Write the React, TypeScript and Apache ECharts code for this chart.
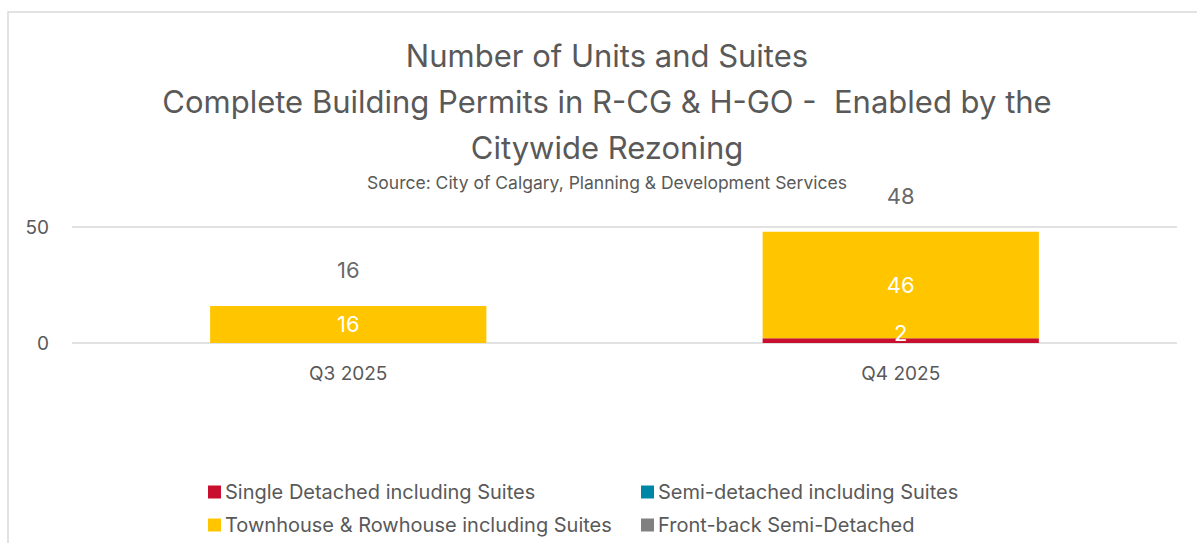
import React, { useEffect, useRef } from "react";
import * as echarts from "echarts";

const categories = ["Q3 2025", "Q4 2025"];
const singleDetached = [0, 2];
const semiDetached = [0, 0];
const townhouse = [16, 46];
const frontBack = [0, 0];
const totals = [16, 48];
const seriesNames = [
  "Single Detached including Suites",
  "Semi-detached including Suites",
  "Townhouse & Rowhouse including Suites",
  "Front-back Semi-Detached",
];
const colors = ["#C8102E", "#0087A8", "#FFC600", "#808080"];

const FONT = "Inter";
const TXT = "#595959";

export default function App() {
  const ref = useRef<HTMLDivElement>(null);
  useEffect(() => {
    const chart = echarts.init(ref.current!, null, { renderer: "svg" });
    const values = [singleDetached, semiDetached, townhouse, frontBack];
    const barSeries = seriesNames.map((name, i) => ({
      name,
      type: "bar",
      stack: "total",
      barWidth: "50%",
      itemStyle: { color: colors[i] },
      data: values[i],
      label: {
        show: true,
        position: "inside",
        offset: i === 0 ? [0, -8] : [0, 0],
        color: "#ffffff",
        fontSize: 22,
        fontFamily: FONT,
        formatter: (p: any) => (p.value ? String(p.value) : ""),
      },
    }));
    const legendPos = [
      { left: 208, top: 482 },
      { left: 641, top: 482 },
      { left: 208, top: 515 },
      { left: 641, top: 515 },
    ];
    const titleText = (text: string, y: number, size: number) => ({
      type: "text",
      x: 607,
      y,
      style: {
        text,
        fill: TXT,
        fontSize: size,
        fontFamily: FONT,
        align: "center",
        verticalAlign: "middle",
      },
    });
    chart.setOption({
      animation: false,
      textStyle: { fontFamily: FONT },
      graphic: [
        {
          type: "rect",
          shape: { x: 8, y: 12, width: 1250, height: 700 },
          style: { fill: "none", stroke: "#d9d9d9", lineWidth: 1.5 },
          silent: true,
        },
        titleText("Number of Units and Suites", 55, 31),
        titleText("Complete Building Permits in R-CG & H-GO -  Enabled by the", 101, 31),
        titleText("Citywide Rezoning", 147, 31),
        titleText("Source: City of Calgary, Planning & Development Services", 182, 17.5),
      ],
      legend: seriesNames.map((name, i) => ({
        data: [name],
        left: legendPos[i].left,
        top: legendPos[i].top,
        padding: 0,
        icon: "rect",
        itemWidth: 13,
        itemHeight: 13,
        itemGap: 6,
        selectedMode: false,
        textStyle: { color: TXT, fontSize: 20, fontFamily: FONT, padding: [0, 0, 0, -1] },
      })),
      grid: { left: 72, right: 20, top: 227, bottom: 200, containLabel: false },
      xAxis: {
        type: "category",
        data: categories,
        axisLine: { show: false },
        axisTick: { show: false },
        axisLabel: { color: TXT, fontSize: 19, fontFamily: FONT, margin: 21 },
      },
      yAxis: {
        type: "value",
        min: 0,
        max: 50,
        interval: 50,
        axisLine: { show: false },
        axisTick: { show: false },
        splitLine: { lineStyle: { color: "#d9d9d9", width: 1.5 } },
        axisLabel: { color: TXT, fontSize: 19, fontFamily: FONT, margin: 23 },
      },
      series: [
        ...barSeries,
        {
          name: "Total",
          type: "scatter",
          data: totals,
          symbolSize: 1,
          itemStyle: { color: "rgba(0,0,0,0)" },
          label: {
            show: true,
            position: "top",
            distance: 24,
            color: "#404040",
            fontSize: 22,
            fontFamily: FONT,
          },
        },
      ],
    });
    return () => chart.dispose();
  }, []);
  return (
    <div
      ref={ref}
      style={{ position: "absolute", left: 0, top: 0, width: 1197, height: 543 }}
    />
  );
}
